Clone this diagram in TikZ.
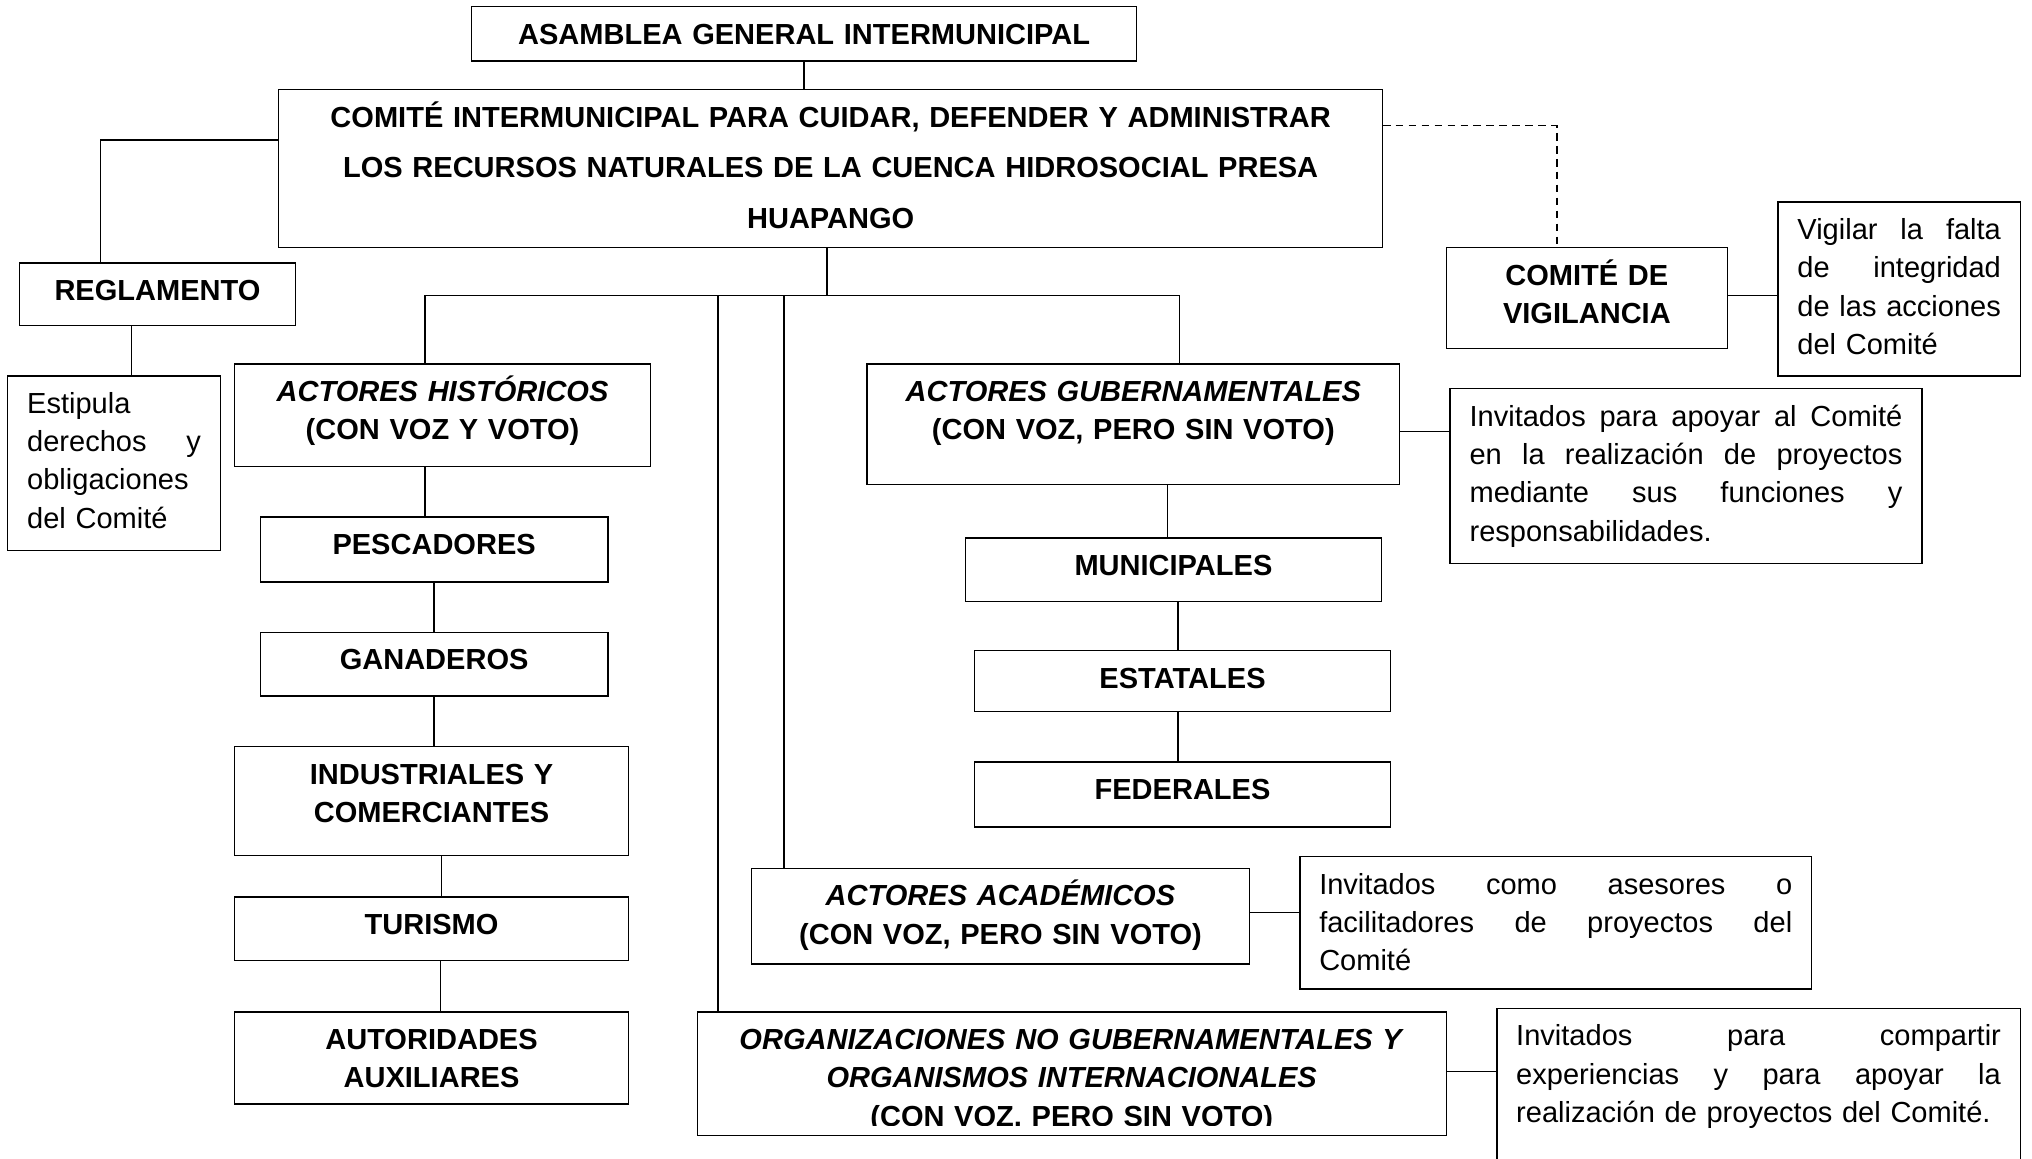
\documentclass[tikz,border=0pt]{standalone}
\usepackage{fontspec}
\setmainfont{Liberation Sans}
\newcommand{\tam}{\fontsize{22.4}{29.5}\selectfont}
\tikzset{
  box/.style={draw, line width=1.1pt, anchor=north west, inner xsep=0pt, inner ysep=0pt,
    outer sep=0pt, align=center, text height=29pt, font=\tam\bfseries},
  nota/.style={box, align=left, inner xsep=15pt, font=\tam},
  linea/.style={line width=1.1pt},
}
\begin{document}
\begin{tikzpicture}[x=1pt, y=-1pt]
  \useasboundingbox (0,0) rectangle (1568,894);
  % Asamblea y Comite
  \node[box, text width=513pt, text depth=13pt] (asam) at (364,5) {ASAMBLEA GENERAL INTERMUNICIPAL};
  \node[box, text width=852pt, text depth=93pt, font=\fontsize{22.4}{39}\selectfont\bfseries] (comite) at (215,69)
    {COMITÉ INTERMUNICIPAL PARA CUIDAR, DEFENDER Y ADMINISTRAR\\ LOS RECURSOS NATURALES DE LA CUENCA HIDROSOCIAL PRESA\\ HUAPANGO};
  % Reglamento
  \node[box, text width=213pt, text depth=19pt] (regl) at (15,203) {REGLAMENTO};
  \node[nota, text width=134pt, text depth=106pt] (estip) at (6,290)
    {Estipula\\ derechos\hfill y\\ obligaciones\\ del Comité};
  % Vigilancia
  \node[box, text width=217pt, text depth=49pt] (vigil) at (1116,191) {COMITÉ DE\\ VIGILANCIA};
  \node[nota, text width=157pt, text depth=105pt] (vigilar) at (1372,156)
    {Vigilar\hfill la\hfill falta\\ de\hfill integridad\\ de\hfill las\hfill acciones\\ del Comité};
  % Actores historicos
  \node[box, text width=321pt, text depth=50pt] (hist) at (181,281) {\textit{ACTORES HISTÓRICOS}\\ (CON VOZ Y VOTO)};
  \node[box, text width=268pt, text depth=21pt] (pesc) at (201,399) {PESCADORES};
  \node[box, text width=268pt, text depth=20pt] (ganad) at (201,488) {GANADEROS};
  \node[box, text width=304pt, text depth=55pt] (indus) at (181,576) {INDUSTRIALES Y\\ COMERCIANTES};
  \node[box, text width=304pt, text depth=20pt] (tur) at (181,692) {TURISMO};
  \node[box, text width=304pt, text depth=42pt] (autor) at (181,781) {AUTORIDADES\\ AUXILIARES};
  % Actores gubernamentales
  \node[box, text width=411pt, text depth=64pt] (gub) at (669,281) {\textit{ACTORES GUBERNAMENTALES}\\ (CON VOZ, PERO SIN VOTO)};
  \node[nota, text width=334pt, text depth=106pt] (apoyar) at (1119,300)
    {Invitados\hfill para\hfill apoyar\hfill al\hfill Comité\\ en\hfill la\hfill realización\hfill de\hfill proyectos\\
     mediante\hfill sus\hfill funciones\hfill y\\ responsabilidades.};
  \node[box, text width=321pt, text depth=20pt] (munic) at (745,415) {MUNICIPALES};
  \node[box, text width=321pt, text depth=18pt] (estat) at (752,502) {ESTATALES};
  \node[box, text width=321pt, text depth=21pt] (fed) at (752,588) {FEDERALES};
  % Actores academicos y ONG
  \node[box, text width=384pt, text depth=45pt] (acad) at (580,670) {\textit{ACTORES ACADÉMICOS}\\ (CON VOZ, PERO SIN VOTO)};
  \node[nota, text width=365pt, text depth=73pt] (ases) at (1003,661)
    {Invitados\hfill como\hfill asesores\hfill o\\ facilitadores\hfill de\hfill proyectos\hfill del\\ Comité};
  \node[box, text width=578pt, text depth=66pt] (org) at (538,781)
    {\textit{ORGANIZACIONES NO GUBERNAMENTALES Y}\\ \textit{ORGANISMOS INTERNACIONALES}\\ (CON VOZ, PERO SIN VOTO)};
  \fill[white] (539,868.5) rectangle (1115,875.3);
  \node[nota, text width=374pt, text depth=111pt] (comp) at (1155,778)
    {Invitados\hfill para\hfill compartir\\ experiencias\hfill y\hfill para\hfill apoyar\hfill la\\ realización de proyectos del Comité.};
  % Conectores de arriba
  \draw[linea] (asam.south) -- (asam.south |- comite.north);
  \draw[linea] ([yshift=22pt]comite.west) -| ([xshift=-44pt]regl.north);
  \draw[linea] ([xshift=-20pt]regl.south) -- ([xshift=-20pt]regl.south |- estip.north);
  \draw[linea, dash pattern=on 6pt off 4pt] ([yshift=33pt]comite.east) -| ([xshift=-23pt]vigil.north);
  \draw[linea] ([yshift=2pt]vigil.east) -- ([yshift=2pt]vigil.east -| vigilar.west);
  % Bus de actores
  \coordinate (bus) at (638,228);
  \draw[linea] (comite.south -| bus) -- (bus);
  \draw[linea] ([xshift=-13.5pt]hist.north) |- (bus) -| ([xshift=35.5pt]gub.north);
  \draw[linea] ([xshift=-273pt]org.north) -- ([xshift=-273pt]org.north |- bus);
  \draw[linea] ([xshift=-167pt]acad.north) -- ([xshift=-167pt]acad.north |- bus);
  % Historicos
  \draw[linea] ([xshift=-13.5pt]hist.south) -- ([xshift=-13.5pt]hist.south |- pesc.north);
  \draw[linea] (pesc.south) -- (pesc.south |- ganad.north);
  \draw[linea] (ganad.south) -- (ganad.south |- indus.north);
  \draw[linea] ([xshift=7.5pt]indus.south) -- ([xshift=7.5pt]indus.south |- tur.north);
  \draw[linea] ([xshift=7pt]tur.south) -- ([xshift=7pt]tur.south |- autor.north);
  % Gubernamentales
  \draw[linea] ([yshift=-5.5pt]gub.east) -- ([yshift=-5.5pt]gub.east -| apoyar.west);
  \draw[linea] ([xshift=-4.5pt]munic.north |- gub.south) -- ([xshift=-4.5pt]munic.north);
  \draw[linea] ([xshift=-3.5pt]estat.north |- munic.south) -- ([xshift=-3.5pt]estat.north);
  \draw[linea] ([xshift=-3.5pt]estat.south) -- ([xshift=-3.5pt]estat.south |- fed.north);
  % Academicos y ONG
  \draw[linea] ([yshift=3pt]acad.east) -- ([yshift=3pt]acad.east -| ases.west);
  \draw[linea] ([yshift=1.5pt]org.east) -- ([yshift=1.5pt]org.east -| comp.west);
\end{tikzpicture}
\end{document}
